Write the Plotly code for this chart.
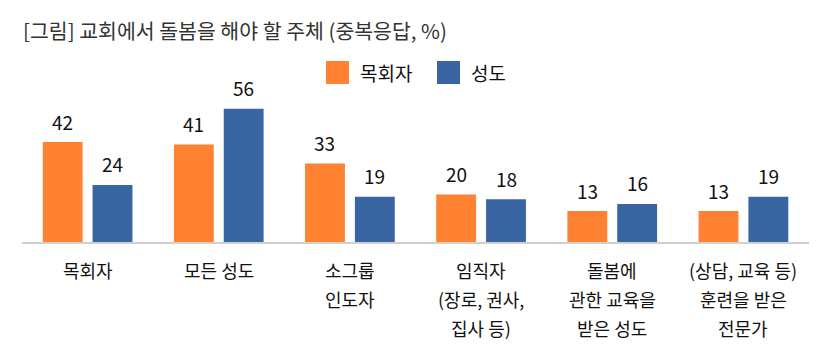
import plotly.graph_objects as go

categories = ["목회자", "모든 성도", "소그룹 인도자", "임직자 (장로, 권사, 집사 등)",
              "돌봄에 관한 교육을 받은 성도", "(상담, 교육 등) 훈련을 받은 전문가"]
category_lines = [
    ["목회자"],
    ["모든 성도"],
    ["소그룹", "인도자"],
    ["임직자", "(장로, 권사,", "집사 등)"],
    ["돌봄에", "관한 교육을", "받은 성도"],
    ["(상담, 교육 등)", "훈련을 받은", "전문가"],
]
pastor = [42, 41, 33, 20, 13, 13]
members = [24, 56, 19, 18, 16, 19]
series_names = ["목회자", "성도"]
title_text = "[그림] 교회에서 돌봄을 해야 할 주체 (중복응답, %)"

ORANGE = "#FF8232"
BLUE = "#3966A3"
FONT = "Noto Sans CJK KR"

W, H = 828, 364
L, R, T, B = 22, 19, 90, 122
pw, ph = W - L - R, H - T - B


def px(x):
    return (x - L) / pw


def py(y):
    return (H - B - y) / ph


fig = go.Figure()
fig.add_trace(go.Bar(x=categories, y=pastor, name=series_names[0],
                     marker=dict(color=ORANGE, line=dict(width=0))))
fig.add_trace(go.Bar(x=categories, y=members, name=series_names[1],
                     marker=dict(color=BLUE, line=dict(width=0))))

annotations = []
# value labels
for vals, shift in ((pastor, -25), (members, 25)):
    for c, v in zip(categories, vals):
        annotations.append(dict(x=c, y=v, xref="x", yref="y", text=str(v),
                                showarrow=False, xshift=shift, yshift=21,
                                yanchor="middle",
                                font=dict(family=FONT, size=19, color="#111")))
# category labels
for c, lines in zip(categories, category_lines):
    for i, ln in enumerate(lines):
        annotations.append(dict(x=c, y=0, xref="x", yref="y", text=ln,
                                showarrow=False, yshift=-28 - 29 * i,
                                yanchor="middle",
                                font=dict(family=FONT, size=18, color="#111")))
# title
annotations.append(dict(x=px(21), y=py(30), xref="paper", yref="paper", text=title_text,
                        showarrow=False, xanchor="left", yanchor="middle",
                        font=dict(family=FONT, size=20.5, color="#333")))

# custom legend
legend_items = [(series_names[0], ORANGE, 326), (series_names[1], BLUE, 437)]
shapes = []
for name, col, x0 in legend_items:
    shapes.append(dict(type="rect", xref="paper", yref="paper",
                       x0=px(x0), x1=px(x0 + 23), y0=py(84), y1=py(61),
                       fillcolor=col, line=dict(width=0)))
    annotations.append(dict(x=px(x0 + 32), y=py(72.5), xref="paper", yref="paper",
                            text=name, showarrow=False, xanchor="left", yanchor="middle",
                            font=dict(family=FONT, size=19, color="#111")))

fig.update_layout(
    width=W, height=H,
    margin=dict(l=L, r=R, t=T, b=B),
    paper_bgcolor="white", plot_bgcolor="white",
    barmode="group", bargap=0.24, bargroupgap=0.2,
    showlegend=False,
    font=dict(family=FONT, size=18, color="#111"),
    xaxis=dict(showticklabels=False, ticks="", showgrid=False, zeroline=False,
               showline=True, linecolor="#D0D0D0", linewidth=2),
    yaxis=dict(range=[0, 63.9], visible=False, fixedrange=True),
    annotations=annotations, shapes=shapes,
)

fig.write_html("out.html", config={"displayModeBar": False},
               post_script="document.body.style.margin='0';document.body.style.padding='0';")
